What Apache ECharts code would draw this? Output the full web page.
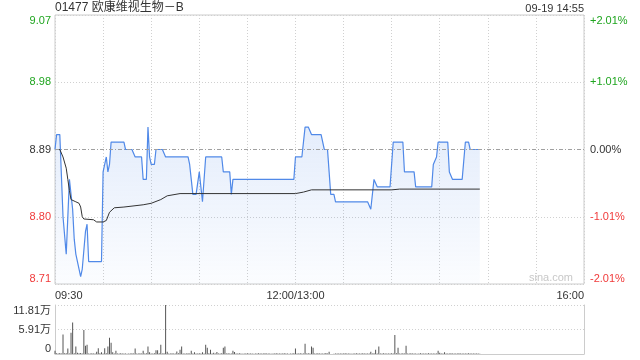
<!DOCTYPE html>
<html><head><meta charset="utf-8">
<script src="https://cdn.jsdelivr.net/npm/echarts@6/dist/echarts.min.js"></script>
<style>html,body{margin:0;padding:0;background:#fff;}#c{width:640px;height:360px;}</style>
</head><body><div id="c"></div>
<script>
const titleText = '01477 欧康维视生物－B';
const dateText = '09-19 14:55';
const prevClose = 8.89;
const xTickPos = [0, 150, 330];
const xTickLabels = ['09:30', '12:00/13:00', '16:00'];
const leftLabels = ['8.71', '8.80', '8.89', '8.98', '9.07'];
const rightLabels = ['-2.01%', '-1.01%', '0.00%', '+1.01%', '+2.01%'];
const volTickLabels = ['0', '5.91万', '11.81万'];

// minute-by-minute price (index 0 = 09:30)
const price = [
8.89,8.91,8.91,8.91,8.91,8.80,8.80,8.75,8.75,8.85,
8.83,8.81,8.77,8.75,8.75,8.73,8.72,8.73,8.73,8.78,
8.79,8.74,8.74,8.74,8.74,8.74,8.74,8.74,8.74,8.74,
8.86,8.87,8.88,8.86,8.87,8.90,8.90,8.90,8.90,8.90,
8.90,8.90,8.90,8.90,8.89,8.89,8.89,8.89,8.89,8.89,
8.88,8.88,8.88,8.88,8.88,8.85,8.85,8.85,8.92,8.88,
8.87,8.87,8.87,8.89,8.89,8.89,8.89,8.89,8.89,8.88,
8.88,8.88,8.88,8.88,8.88,8.88,8.88,8.88,8.88,8.88,
8.88,8.88,8.88,8.88,8.87,8.85,8.83,8.83,8.83,8.83,
8.86,8.86,8.82,8.82,8.88,8.88,8.88,8.88,8.88,8.88,
8.88,8.88,8.88,8.88,8.88,8.86,8.86,8.86,8.86,8.86,
8.83,8.85,8.85,8.85,8.85,8.85,8.85,8.85,8.85,8.85,
8.85,8.85,8.85,8.85,8.85,8.85,8.85,8.85,8.85,8.85,
8.85,8.85,8.85,8.85,8.85,8.85,8.85,8.85,8.85,8.85,
8.85,8.85,8.85,8.85,8.85,8.85,8.85,8.85,8.85,8.85,
8.88,8.88,8.88,8.88,8.88,8.88,8.92,8.92,8.92,8.92,
8.91,8.91,8.91,8.91,8.91,8.91,8.91,8.91,8.89,8.89,
8.89,8.86,8.83,8.83,8.83,8.82,8.82,8.82,8.82,8.82,
8.82,8.82,8.82,8.82,8.82,8.82,8.82,8.82,8.82,8.82,
8.82,8.82,8.82,8.82,8.82,8.82,8.82,8.81,8.81,8.85,
8.85,8.84,8.84,8.84,8.84,8.84,8.84,8.84,8.84,8.84,
8.84,8.90,8.90,8.90,8.90,8.90,8.90,8.90,8.86,8.86,
8.86,8.86,8.86,8.86,8.86,8.84,8.84,8.84,8.84,8.84,
8.84,8.84,8.84,8.84,8.84,8.84,8.87,8.87,8.88,8.90,
8.90,8.90,8.90,8.90,8.90,8.90,8.86,8.86,8.85,8.85,
8.85,8.85,8.85,8.85,8.85,8.85,8.90,8.90,8.90,8.89,
8.89,8.89,8.89,8.89,8.89,8.89
];

// average price line, read at minute indices
const avgIdx = [0,3,4,5,7,8,9,10,13,15,16,17,18,24,26,30,32,34,37,43,55,60,66,70,78,150,155,160,210,215,265];
const avgVal = [8.890,8.890,8.888,8.880,8.865,8.850,8.835,8.823,8.820,8.818,8.813,8.800,8.797,8.796,8.793,8.793,8.795,8.806,8.812,8.813,8.816,8.818,8.823,8.828,8.831,8.831,8.833,8.836,8.836,8.837,8.837];

// minute volume (shares)
const volume = [
8000,2000,1500,2500,1000,47000,2000,2000,13000,1500,
51000,76000,2000,18000,3000,2000,2500,1500,58000,20000,
22000,1500,1000,2000,1500,1000,5600,14000,2000,4000,
1500,14000,2000,18000,39000,27000,4000,1500,8000,1500,
1000,2000,1200,1000,1500,800,1500,1000,2000,1200,
13000,1000,1500,2000,1000,8000,1500,2000,18000,4000,
1500,1000,2000,9000,9000,2000,22000,1500,2000,118100,
5600,1500,1000,2000,1200,1500,6000,2000,10000,18000,
1500,1000,1500,2000,1200,8000,1500,4000,1000,1500,
2000,1000,4000,1500,22000,15000,2000,10000,1500,3000,
1200,5000,1500,1000,2000,15000,18000,1500,2000,1000,
1500,8000,5000,1500,1000,2000,1200,800,1500,1000,
2000,1200,1000,1500,800,1500,1000,2000,1200,1000,
1500,2000,1000,1200,1500,800,1500,1000,2000,1500,
1000,1500,1200,2000,1000,1500,800,1500,1000,2000,
13000,1500,1000,2000,1500,1200,25000,1500,2000,1000,
18000,15000,1500,1000,2000,1200,1000,1500,1000,2500,
1500,5600,0,0,500,1000,1500,1000,1200,1500,
1000,2000,1200,1000,1500,800,1500,1000,2000,1200,
1000,1500,2000,1000,1200,1500,1000,5600,1500,2000,
10000,1500,18000,1500,1000,2000,1200,1000,1500,1000,
2000,1500,46000,2000,15000,1500,1000,2000,1200,20000,
1500,1000,2000,1200,1500,1000,800,1500,2000,1000,
1200,1500,1000,2000,1500,1000,1200,1500,1000,8000,
3000,1500,1000,4000,1200,1500,1000,2000,1500,1000,
1200,1500,2000,1000,1500,1200,1000,1500,2000,1000,
1500,1200,1000,1500,1000,800
];

const GREEN = '#1fa51f', RED = '#f03a3a', DARK = '#333';
const FONT = '"Liberation Sans", Arial, "Noto Sans CJK SC", sans-serif';
function lvlColor(k){ return k > 2 ? GREEN : (k < 2 ? RED : DARK); }
const dotted = {color:'#d0d0d0', type:[1,2], width:1};

const chart = echarts.init(document.getElementById('c'));
chart.setOption({
  animation: false,
  textStyle: {fontFamily: FONT},
  title: [
    {text: titleText, left: 55, top: 2, padding: 0, textStyle: {fontSize: 12, fontWeight: 'normal', color: '#333', fontFamily: FONT}},
    {text: dateText, right: 56, top: 3, padding: 0, textStyle: {fontSize: 11, fontWeight: 'normal', color: '#333', fontFamily: FONT}}
  ],
  graphic: [{type:'text', right: 67, top: 272, style:{text:'sina.com', fill:'#c8c8c8', fontSize: 11, fontFamily: FONT}}],
  grid: [
    {left: 55, right: 56, top: 15, height: 269, show: true, borderColor: '#ccc', borderWidth: 1},
    {left: 55, right: 56, top: 305, height: 49}
  ],
  xAxis: [
    {type:'value', gridIndex:0, min:0, max:330, interval:30,
     axisLine:{show:false}, axisTick:{show:false},
     splitLine:{show:true, lineStyle: dotted},
     axisLabel:{fontSize:11, color:'#333', margin:6, fontFamily: FONT,
       alignMinLabel:'left', alignMaxLabel:'right',
       formatter: v => { const k = xTickPos.indexOf(Math.round(v)); return k >= 0 ? xTickLabels[k] : ''; }}},
    {type:'value', gridIndex:1, min:0, max:330, interval:30,
     axisLine:{show:true, lineStyle:{color:'#ccc'}}, axisTick:{show:false},
     axisLabel:{show:false}, splitLine:{show:false}}
  ],
  yAxis: [
    {type:'value', gridIndex:0, min:8.71, max:9.07, show:false},
    {type:'value', gridIndex:0, position:'left', min:0, max:4, interval:1,
     axisLine:{show:false}, axisTick:{show:false},
     splitLine:{show:true, lineStyle: dotted},
     axisLabel:{fontSize:11, margin:4, fontFamily: FONT,
       verticalAlignMinLabel:'bottom', verticalAlignMaxLabel:'top',
       formatter: v => leftLabels[Math.round(v)],
       color: v => lvlColor(Math.round(v))}},
    {type:'value', gridIndex:0, position:'right', min:0, max:4, interval:1,
     axisLine:{show:false}, axisTick:{show:false}, splitLine:{show:false},
     axisLabel:{fontSize:11, margin:6, fontFamily: FONT,
       verticalAlignMinLabel:'bottom', verticalAlignMaxLabel:'top',
       formatter: v => rightLabels[Math.round(v)],
       color: v => lvlColor(Math.round(v))}},
    {type:'value', gridIndex:1, position:'left', min:0, max:118100, interval:59050,
     axisLine:{show:true, lineStyle:{color:'#ccc'}}, axisTick:{show:false},
     splitLine:{show:true, lineStyle: dotted},
     axisLabel:{fontSize:11, margin:4, color:'#333', fontFamily: FONT,
       verticalAlignMinLabel:'bottom', verticalAlignMaxLabel:'top',
       formatter: v => volTickLabels[Math.round(v / 59050)]}},
    {type:'value', gridIndex:1, position:'right', min:0, max:118100,
     axisLine:{show:true, lineStyle:{color:'#ccc'}}, axisTick:{show:false},
     axisLabel:{show:false}, splitLine:{show:false}}
  ],
  series: [
    {type:'line', xAxisIndex:0, yAxisIndex:0, showSymbol:false, symbol:'none',
     data: price.map((v, i) => [i, v]),
     lineStyle:{color:'#5089e8', width:1.2},
     areaStyle:{origin:'start', color: new echarts.graphic.LinearGradient(0,0,0,1,[
       {offset:0, color:'rgba(80,137,232,0.22)'}, {offset:1, color:'rgba(80,137,232,0.03)'}])},
     markLine:{silent:true, symbol:['none','none'], label:{show:false},
       lineStyle:{color:'#a0a0a0', type:[4,2,1,2], width:1},
       data:[{yAxis: prevClose}]},
     z: 3},
    {type:'line', xAxisIndex:0, yAxisIndex:0, showSymbol:false, symbol:'none',
     data: avgIdx.map((x, k) => [x, avgVal[k]]),
     lineStyle:{color:'#333', width:1}, z: 4},
    {type:'bar', xAxisIndex:1, yAxisIndex:3, barWidth:1,
     data: volume.map((v, i) => [i, v]),
     itemStyle:{color:'#555'}}
  ]
});
</script></body></html>
